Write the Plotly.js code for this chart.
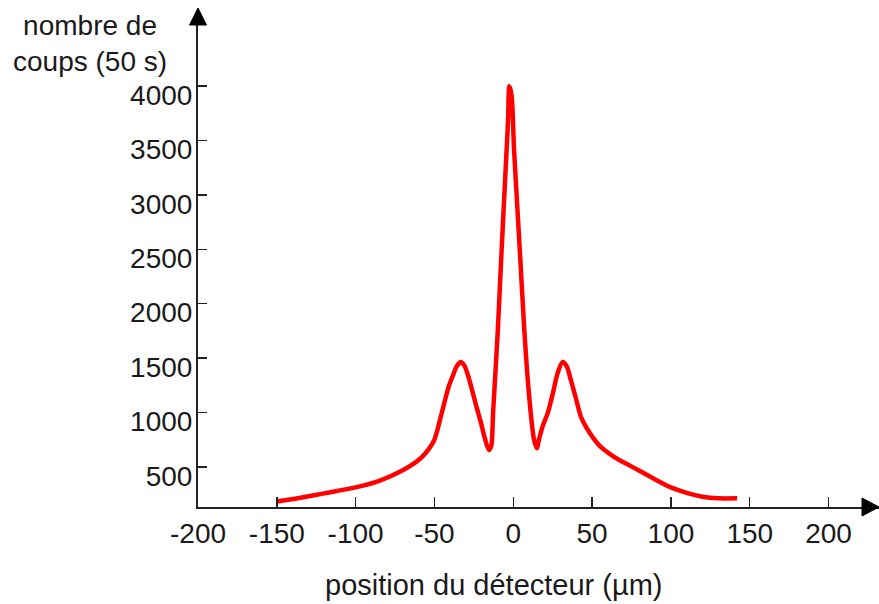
<!DOCTYPE html>
<html>
<head>
<meta charset="utf-8">
<script src="https://cdn.plot.ly/plotly-3.0.1.min.js"></script>
<style>html,body{margin:0;padding:0;background:#fff;}#chart{width:879px;height:604px;}</style>
</head>
<body>
<div id="chart"></div>
<script>
// Detector position (µm)
const positions = [-150, -135, -120, -100, -85, -71, -62, -58, -54, -50, -46, -43, -41, -38, -36, -33.5, -31, -28.5, -26.7, -23.5, -20.4, -18, -15.5, -14, -12.8, -9.8, -7.7, -5.2, -3.3, -2.5, -1.1, 0.5, 4.5, 7, 10, 13.2, 15, 16.3, 18.8, 21.8, 25.2, 28.1, 31.3, 34, 36.5, 39.7, 42.9, 46, 50, 55, 63.9, 76.6, 89.2, 100, 110, 120, 130, 142];
// Counts (50 s)
const counts = [180, 215, 255, 310, 370, 460, 540, 588, 655, 750, 960, 1130, 1236, 1350, 1420, 1463, 1430, 1330, 1236, 1060, 899, 760, 654, 690, 1000, 1757, 2401, 3136, 3688, 4000, 3918, 3413, 2401, 1757, 1160, 746, 670, 750, 880, 991, 1180, 1359, 1463, 1420, 1298, 1130, 960, 870, 780, 690, 592, 490, 390, 310, 260, 225, 210, 210];
const xTicks = [-200, -150, -100, -50, 0, 50, 100, 150, 200];
const yTicks = [500, 1000, 1500, 2000, 2500, 3000, 3500, 4000];
const xTitle = 'position du détecteur (µm)';
const yTitle = 'nombre de<br>coups (50 s)';

const FONT = 'Liberation Sans, Arial, sans-serif';
const TXT = '#1a1a1a';
const AX = '#222222';

const trace = {
  x: positions, y: counts, type: 'scatter', mode: 'lines',
  line: {color: '#ff0000', width: 4.5, shape: 'spline', smoothing: 0.8},
  hoverinfo: 'skip'
};

const layout = {
  width: 879, height: 604,
  margin: {l: 198, r: 0, t: 10, b: 97, pad: 0},
  paper_bgcolor: '#ffffff', plot_bgcolor: '#ffffff',
  showlegend: false,
  font: {family: FONT, size: 28, color: TXT},
  xaxis: {
    range: [-200, 232], tickvals: xTicks, ticktext: xTicks.map(String),
    ticks: 'inside', ticklen: 10, tickwidth: 1.5, tickcolor: AX,
    showline: true, linecolor: AX, linewidth: 2,
    showgrid: false, zeroline: false,
    tickfont: {family: FONT, size: 28, color: TXT}
  },
  yaxis: {
    range: [130, 4700], tickvals: yTicks, ticktext: yTicks.map(String),
    ticks: 'inside', ticklen: 9, tickwidth: 1.5, tickcolor: AX,
    ticklabelposition: 'outside', ticklabelshift: 9, ticklabelstandoff: -2,
    showline: true, linecolor: AX, linewidth: 2,
    showgrid: false, zeroline: false,
    tickfont: {family: FONT, size: 28, color: TXT}
  },
  annotations: [
    {text: xTitle, xref: 'paper', yref: 'paper', x: 0.434, y: -0.157,
     xanchor: 'center', yanchor: 'middle', showarrow: false,
     font: {family: FONT, size: 29, color: TXT}},
    {text: yTitle, xref: 'paper', yref: 'paper', x: -0.158, y: 0.9316,
     xanchor: 'center', yanchor: 'middle', showarrow: false, align: 'center',
     font: {family: FONT, size: 28, color: TXT}}
  ],
  shapes: [
    {type: 'path', xref: 'paper', yref: 'paper', xsizemode: 'pixel', ysizemode: 'pixel',
     xanchor: 0, yanchor: 1, path: 'M0,2 L-8.5,-15 L8.5,-15 Z',
     fillcolor: '#000000', line: {color: '#000000', width: 1}},
    {type: 'path', xref: 'paper', yref: 'paper', xsizemode: 'pixel', ysizemode: 'pixel',
     xanchor: 1, yanchor: 0, path: 'M0,0 L-17,9 L-17,-9 Z',
     fillcolor: '#000000', line: {color: '#000000', width: 1}}
  ]
};

Plotly.newPlot('chart', [trace], layout, {staticPlot: true, displayModeBar: false});
</script>
</body>
</html>
